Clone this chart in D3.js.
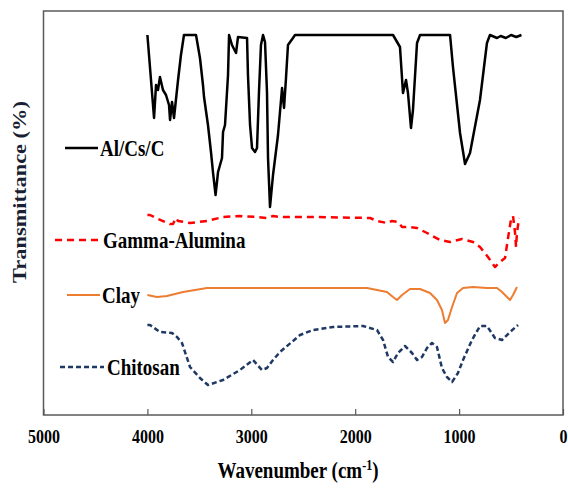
<!DOCTYPE html>
<html lang="en">
    <head>
        <meta charset="utf-8">
        <title>FTIR spectra</title>
        <script src="https://d3js.org/d3.v7.min.js"></script>
        <style type="text/css">
        body { margin: 0; background: #fff; }
        .tick-label {
            font-family: "Liberation Serif", "Times New Roman", serif;
            font-weight: bold;
            font-size: 16px;
        }
        .legend {
            font-family: "Liberation Serif", "Times New Roman", serif;
            font-weight: bold;
            font-size: 19px;
        }
        .axis-title {
            font-family: "Liberation Serif", "Times New Roman", serif;
            font-weight: bold;
            font-size: 19px;
        }
        </style>
    </head>
    <body>
        <svg width="568" height="490"></svg>

    <script type="text/javascript">

            // x ticks (wavenumber, cm-1)
            const xTicks = [5000, 4000, 3000, 2000, 1000, 0];

            // Al/Cs/C
            const alcscWn = [4000, 3936, 3917, 3898, 3879, 3850, 3821, 3792, 3782, 3763, 3744, 3705, 3677, 3648,
                             3532, 3494, 3465, 3455, 3417, 3388, 3369, 3344, 3320, 3282, 3272, 3253, 3224, 3214,
                             3186, 3147, 3128, 3041, 3032, 3012, 2993, 2964, 2945, 2926, 2907, 2887, 2868, 2849,
                             2839, 2820, 2791, 2743, 2704, 2685, 2666, 2647, 2599, 2579, 1636, 1569, 1540, 1511,
                             1492, 1463, 1444, 1405, 1376, 1087, 1059, 991, 943, 895, 799, 732, 703, 635, 600,
                             550, 500, 450, 400];
            const alcscT  = [380, 297, 330, 325, 338, 325, 320, 310, 295, 313, 297, 335, 360, 380,
                             380, 357, 330, 318, 290, 263, 243, 220, 243, 257, 283, 290, 340, 380,
                             370, 362, 378, 377, 340, 290, 267, 263, 267, 323, 370, 380, 373, 323,
                             257, 208, 240, 280, 327, 307, 337, 370, 377, 380, 380, 368, 322, 335,
                             322, 287, 305, 372, 380, 380, 348, 282, 251, 262, 315, 372, 380, 377, 379,
                             377, 380, 378, 380];

            // Gamma-Alumina
            const aluminaWn = [4000, 3975, 3898, 3831, 3783, 3754, 3725, 3705, 3590, 3426, 3272, 3109, 2945, 2849,
                               2791, 2724, 2401, 1857, 1790, 1694, 1646, 1588, 1549, 1473, 1405, 1309, 1184, 1088,
                               972, 866, 799, 722, 655, 606, 558, 529, 500, 481, 462, 452, 443, 423];
            const aluminaT  = [200, 200, 196, 193, 191, 191, 197, 194, 192, 194, 198, 199, 198, 197,
                               199, 198, 198, 197, 194, 192, 194, 193, 188, 188, 187, 182, 175, 173,
                               176, 173, 168, 158, 148, 153, 157, 177, 196, 199, 183, 168, 182, 197];

            // Clay
            const clayWn = [4000, 3908, 3812, 3657, 3426, 2531, 2002, 1886, 1790, 1694, 1636, 1598, 1549, 1473,
                            1376, 1280, 1213, 1165, 1136, 1107, 1068, 1020, 962, 866, 732, 635, 587, 539, 510,
                            481, 443];
            const clayT  = [120, 118, 119, 123, 127, 127, 127, 127, 125, 123, 118, 115, 120, 126,
                            126, 122, 115, 105, 92, 95, 108, 122, 127, 128, 127, 127, 123, 118, 115,
                            120, 128];

            // Chitosan
            const chitosanWn = [4000, 3975, 3879, 3763, 3715, 3667, 3590, 3494, 3417, 3272, 3109, 2983, 2897, 2849,
                                2791, 2724, 2531, 2406, 2213, 1925, 1790, 1732, 1684, 1636, 1588, 1521, 1453, 1405,
                                1357, 1309, 1261, 1213, 1165, 1117, 1068, 1011, 962, 876, 799, 732, 655, 587, 510,
                                433];
            const chitosanT  = [90, 90, 83, 82, 78, 72, 48, 37, 30, 35, 45, 55, 45, 47,
                                55, 63, 80, 85, 88, 89, 85, 75, 58, 53, 62, 69, 62, 55,
                                58, 67, 72, 68, 47, 38, 33, 42, 55, 75, 89, 89, 77, 75, 83,
                                90];

            const seriesNames = ["Al/Cs/C", "Gamma-Alumina", "Clay", "Chitosan"];

            //Setting svg params
            const svg = d3.select("svg");
            const plotL = 43.5, plotR = 563, plotT = 11, plotB = 415;
            const stretch = 1.18;   // the original text is drawn taller than wide

            const xScale = d3.scaleLinear()
                             .domain([5000, 0])
                             .range([plotL, plotR]);

            const yScale = d3.scaleLinear()
                             .domain([0, 404])
                             .range([plotB, plotT]);

            const series = [
                {name: seriesNames[0], wn: alcscWn, t: alcscT, color: "#000000", dash: null, width: 2.5},
                {name: seriesNames[1], wn: aluminaWn, t: aluminaT, color: "#ff0000", dash: "7,5", width: 2.5},
                {name: seriesNames[2], wn: clayWn, t: clayT, color: "#ed7d31", dash: null, width: 2},
                {name: seriesNames[3], wn: chitosanWn, t: chitosanT, color: "#1f3864", dash: "5,3", width: 2.5}
            ];

            const line = d3.line()
                           .x(d => xScale(d[0]))
                           .y(d => yScale(d[1]));

            //Plot frame
            svg.append("rect")
               .attr("x", plotL)
               .attr("y", plotT)
               .attr("width", plotR - plotL)
               .attr("height", plotB - plotT)
               .attr("fill", "none")
               .attr("stroke", "#595959")
               .attr("stroke-width", 1.5);

            //Bottom axis, ticks pointing inside
            const bottomAxis = d3.axisBottom(xScale)
                                 .tickValues(xTicks)
                                 .tickSizeInner(-6)
                                 .tickSizeOuter(0)
                                 .tickFormat(d3.format("d"));

            const xAxisG = svg.append("g")
                              .attr("transform", "translate(0," + plotB + ")")
                              .call(bottomAxis);
            xAxisG.select(".domain").remove();
            xAxisG.selectAll("line").attr("stroke", "#595959").attr("stroke-width", 1.2);
            xAxisG.selectAll("text")
                  .attr("class", "tick-label")
                  .attr("fill", "#000")
                  .attr("y", 0)
                  .attr("dy", null)
                  .attr("transform", "translate(0,28) scale(1," + stretch + ")");

            //Spectra
            series.forEach(s => {
                svg.append("path")
                   .datum(s.wn.map((w, i) => [w, s.t[i]]))
                   .attr("fill", "none")
                   .attr("stroke", s.color)
                   .attr("stroke-width", s.width)
                   .attr("stroke-linejoin", "round")
                   .attr("stroke-dasharray", s.dash)
                   .attr("d", line);
            });

            //Legend entries placed next to each trace
            const legendPos = [
                {x1: 65, x2: 98, y: 148, tx: 100},
                {x1: 55, x2: 99, y: 240, tx: 103},
                {x1: 67, x2: 100, y: 295, tx: 102},
                {x1: 60, x2: 104, y: 367, tx: 107}
            ];

            series.forEach((s, i) => {
                const p = legendPos[i];
                svg.append("line")
                   .attr("x1", p.x1).attr("x2", p.x2)
                   .attr("y1", p.y).attr("y2", p.y)
                   .attr("stroke", s.color)
                   .attr("stroke-width", s.width)
                   .attr("stroke-dasharray", s.dash);
                svg.append("text")
                   .attr("class", "legend")
                   .attr("transform", "translate(" + p.tx + "," + (p.y + 8) + ") scale(1," + stretch + ")")
                   .attr("fill", "#000")
                   .text(s.name);
            });

            //Axis titles
            const xTitle = svg.append("text")
                              .attr("class", "axis-title")
                              .attr("transform", "translate(298,478) scale(1," + stretch + ")")
                              .attr("text-anchor", "middle")
                              .attr("fill", "#000");
            xTitle.append("tspan").text("Wavenumber (cm");
            xTitle.append("tspan").attr("dy", -7).attr("font-size", "12px").text("-1");
            xTitle.append("tspan").attr("dy", 7).text(")");

            svg.append("text")
               .attr("class", "axis-title")
               .attr("transform", "translate(26,192) rotate(-90) scale(" + stretch + ",1)")
               .attr("text-anchor", "middle")
               .attr("fill", "#1a1f33")
               .text("Transmittance (%)");
        </script>
    </body>
</html>
